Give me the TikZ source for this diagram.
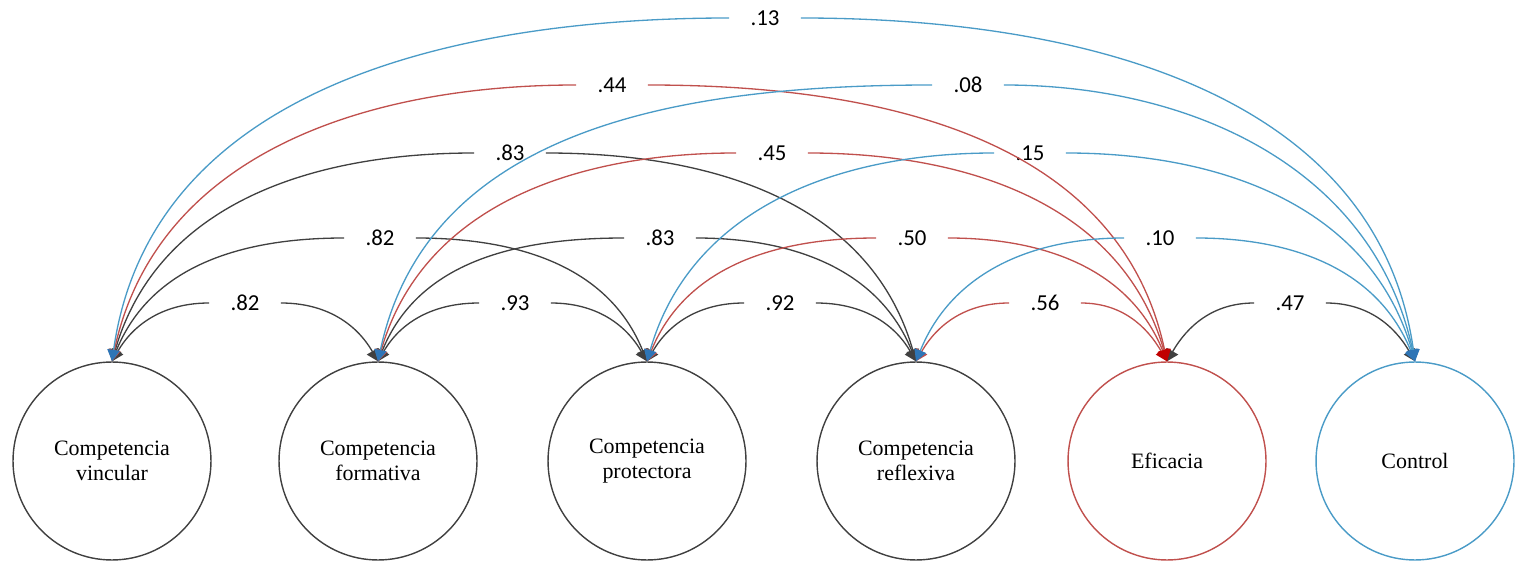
\documentclass[tikz,border=0pt]{standalone}
\usepackage{fontspec}
\setmainfont{Liberation Serif}
\newfontfamily\numfont{Carlito}
\usetikzlibrary{arrows.meta}
\definecolor{lineblack}{HTML}{404040}
\definecolor{corrred}{HTML}{C0504D}
\definecolor{corrblue}{HTML}{4A9BC7}
\definecolor{tipblue}{HTML}{2E75B6}
\definecolor{tipred}{HTML}{C00000}

\begin{document}
\begin{tikzpicture}[
  x=0.02cm, y=-0.02cm,
  factor/.style={draw=lineblack, circle, minimum size=3.96cm,
    line width=0.8pt, align=center,
    font=\fontsize{12.5}{14}\selectfont},
  coef/.style={font=\numfont\fontsize{13}{15}\selectfont,
    inner xsep=12pt, inner ysep=2pt},
  cov/.style={line width=0.75pt},
  tip/.style={-{Triangle[length=2.3mm, width=2.5mm]}},
  pit/.style={{Triangle[length=2.3mm, width=2.5mm]}-},
  btip/.style={-{Triangle[length=2.3mm, width=2.5mm, fill=tipblue, color=tipblue]}},
  bpit/.style={{Triangle[length=2.3mm, width=2.5mm, fill=tipblue, color=tipblue]}-},
  rtip/.style={-{Triangle[length=2.3mm, width=2.5mm, fill=tipred, color=tipred]}},
  rpit/.style={{Triangle[length=2.3mm, width=2.5mm, fill=tipred, color=tipred]}-},
  blk/.style={cov, lineblack},
  red/.style={cov, corrred},
  blu/.style={cov, corrblue}
]
\useasboundingbox (0,0) rectangle (1523,563);

% Latent factors
\node[factor] (vin) at (112,461) {Competencia\\vincular};
\node[factor] (for) at (378,461) {Competencia\\formativa};
\node[factor] (pro) at (647,461) {Competencia\\protectora};
\node[factor] (ref) at (916,461) {Competencia\\reflexiva};
\node[factor, draw=corrred] (efi) at (1167,461) {Eficacia};
\node[factor, draw=corrblue] (con) at (1415,461) {Control};

% Correlation labels
\node[coef] (k12) at (245,303) {.82};
\node[coef] (k23) at (515,303) {.93};
\node[coef] (k34) at (780,303) {.92};
\node[coef] (k45) at (1045,303) {.56};
\node[coef] (k56) at (1290,303) {.47};
\node[coef] (k13) at (380,238) {.82};
\node[coef] (k24) at (660,238) {.83};
\node[coef] (k35) at (912,238) {.50};
\node[coef] (k46) at (1160,238) {.10};
\node[coef] (k14) at (510,153) {.83};
\node[coef] (k25) at (772,153) {.45};
\node[coef] (k36) at (1030,153) {.15};
\node[coef] (k15) at (612,85) {.44};
\node[coef] (k26) at (968,85) {.08};
\node[coef] (k16) at (765,18) {.13};

% Black covariances
\draw[blk, pit] (vin.north) to[out=60, in=180] (k12.west);
\draw[blk, tip] (k12.east) to[out=0, in=120] (for.north);
\draw[blk, pit] (for.north) to[out=60, in=180] (k23.west);
\draw[blk, tip] (k23.east) to[out=0, in=120] (pro.north);
\draw[blk, pit] (pro.north) to[out=60, in=180] (k34.west);
\draw[blk, tip] (k34.east) to[out=0, in=120] (ref.north);
\draw[blk, pit] (efi.north) to[out=60, in=180] (k56.west);
\draw[blk, tip] (k56.east) to[out=0, in=120] (con.north);
\draw[blk, pit] (vin.north) to[out=68, in=180] (k13.west);
\draw[blk, tip] (k13.east) to[out=0, in=112] (pro.north);
\draw[blk, pit] (for.north) to[out=68, in=180] (k24.west);
\draw[blk, tip] (k24.east) to[out=0, in=112] (ref.north);
\draw[blk, pit] (vin.north) to[out=74, in=180] (k14.west);
\draw[blk, tip] (k14.east) to[out=0, in=106] (ref.north);

% Red covariances
\draw[red, pit] (ref.north) to[out=60, in=180] (k45.west);
\draw[red, rtip] (k45.east) to[out=0, in=120] (efi.north);
\draw[red, pit] (pro.north) to[out=68, in=180] (k35.west);
\draw[red, rtip] (k35.east) to[out=0, in=112] (efi.north);
\draw[red, pit] (for.north) to[out=74, in=180] (k25.west);
\draw[red, rtip] (k25.east) to[out=0, in=106] (efi.north);
\draw[red, pit] (vin.north) to[out=78, in=180] (k15.west);
\draw[red, rtip] (k15.east) to[out=0, in=102] (efi.north);

% Blue covariances
\draw[blu, bpit] (ref.north) to[out=68, in=180] (k46.west);
\draw[blu, btip] (k46.east) to[out=0, in=112] (con.north);
\draw[blu, bpit] (pro.north) to[out=74, in=180] (k36.west);
\draw[blu, btip] (k36.east) to[out=0, in=106] (con.north);
\draw[blu, bpit] (for.north) to[out=78, in=180] (k26.west);
\draw[blu, btip] (k26.east) to[out=0, in=102] (con.north);
\draw[blu, bpit] (vin.north) to[out=82, in=180] (k16.west);
\draw[blu, btip] (k16.east) to[out=0, in=98] (con.north);

\end{tikzpicture}
\end{document}
